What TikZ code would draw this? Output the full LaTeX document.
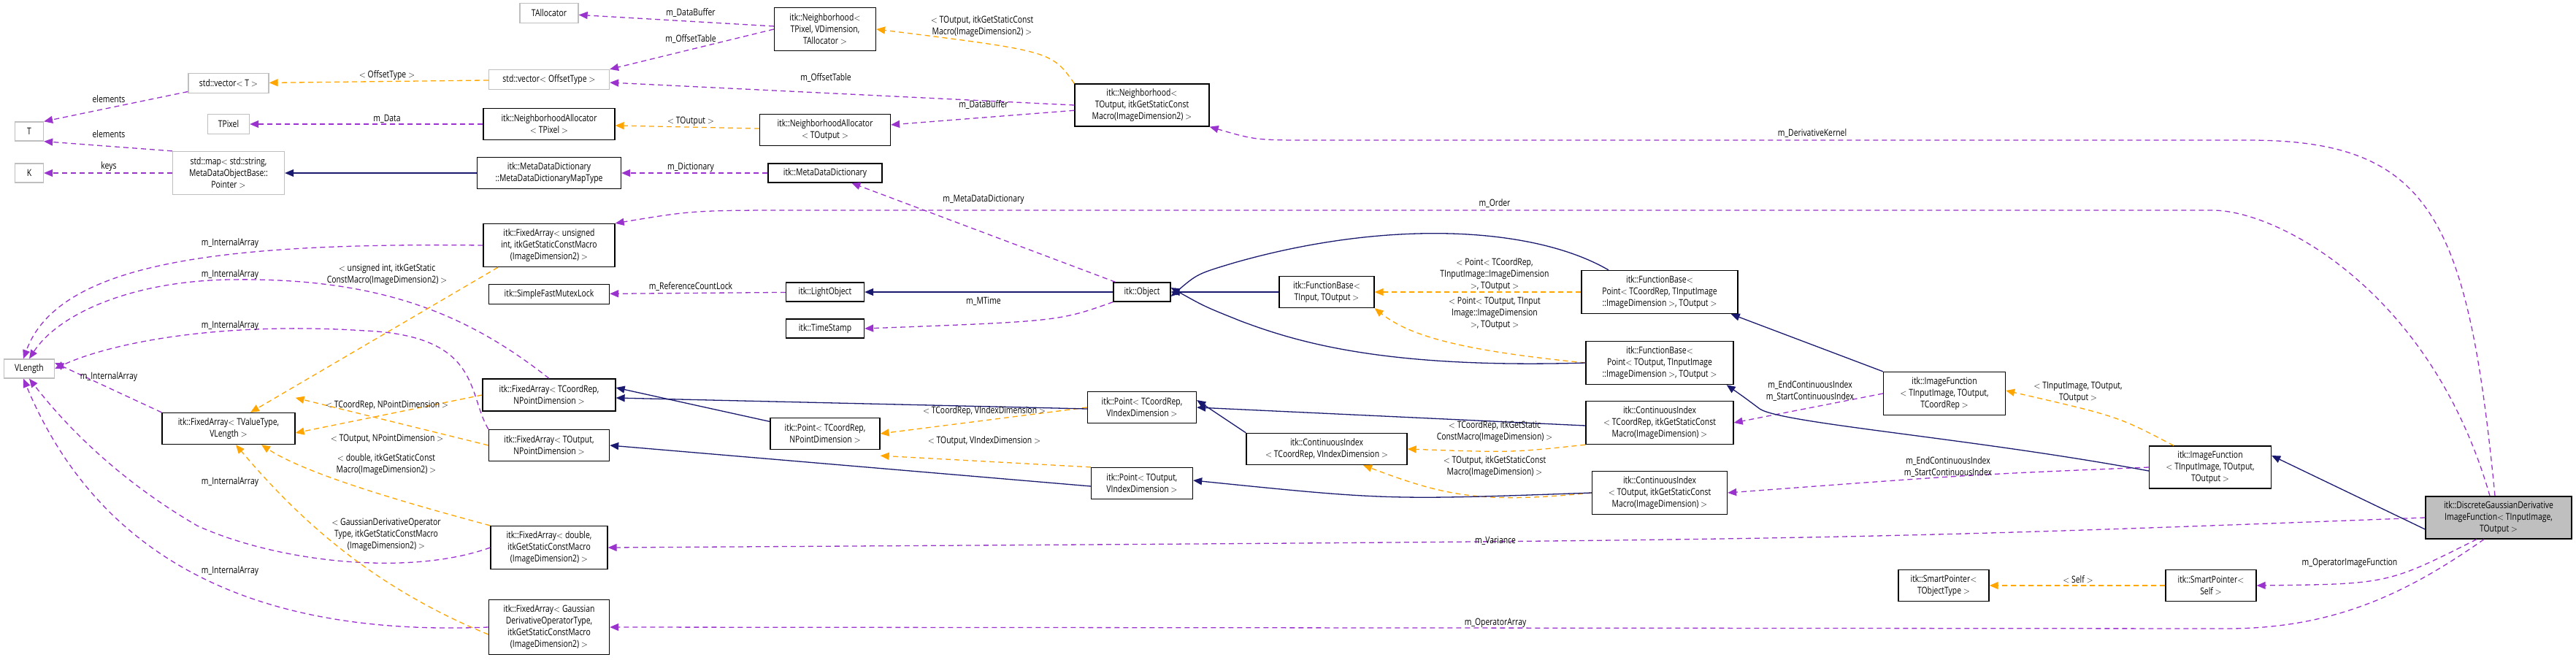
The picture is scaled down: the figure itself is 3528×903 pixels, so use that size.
\documentclass[tikz,border=0pt]{standalone}
\usepackage{fontspec}
\setmainfont[FakeStretch=0.8]{Open Sans}
\usetikzlibrary{arrows.meta}
\definecolor{usec}{HTML}{9A32CD}
\definecolor{tmpc}{HTML}{FFA500}
\definecolor{inhc}{HTML}{191970}
\begin{document}
\begin{tikzpicture}[x=1pt,y=-1pt,
  every node/.style={font=\fontsize{13}{16}\selectfont, align=center, inner sep=0pt},
  bx/.style 2 args={draw=black, line width=1.3pt, fill=white, minimum width=#1pt, minimum height=#2pt},
  gx/.style 2 args={draw=black!25, line width=1.3pt, fill=white, minimum width=#1pt, minimum height=#2pt},
  tip/.style={-{Triangle[length=12pt,width=10pt]}},
  use/.style={tip, draw=usec, line width=1.3pt, dash pattern=on 7pt off 5pt},
  tmp/.style={tip, draw=tmpc, line width=1.3pt, dash pattern=on 7pt off 5pt},
  inh/.style={tip, draw=inhc, line width=1.3pt},
  lb/.style={fill=none}]
\useasboundingbox (0,0) rectangle (3528,903);
% nodes
\node[gx={39}{26}] (T) at (40,180) {T};
\node[gx={39}{26}] (K) at (40,237) {K};
\node[gx={69}{26}] (VL) at (40,505) {VLength};
\node[gx={110}{27}] (vecT) at (313,114) {std::vector$<$ T $>$};
\node[gx={57}{27}] (TPix) at (313,170) {TPixel};
\node[gx={153}{59}] (map) at (313,237) {std::map$<$ std::string,\\MetaDataObjectBase::\\Pointer $>$};
\node[bx={182}{43}] (faTV) at (313,587) {itk::FixedArray$<$ TValueType,\\VLength $>$};
\node[gx={80}{27}] (TAl) at (752,18) {TAllocator};
\node[gx={165}{27}] (vecO) at (752,109) {std::vector$<$ OffsetType $>$};
\node[bx={180}{43}] (naP) at (752,170) {itk::NeighborhoodAllocator\\$<$ TPixel $>$};
\node[bx={197}{43}] (mdmt) at (752,237) {itk::MetaDataDictionary\\::MetaDataDictionaryMapType};
\node[bx={180}{59}] (faU) at (752,336) {itk::FixedArray$<$ unsigned\\int, itkGetStaticConstMacro\\(ImageDimension2) $>$};
\node[bx={165}{27}] (mut) at (752,403) {itk::SimpleFastMutexLock};
\node[bx={182}{44}] (faCR) at (752,541) {itk::FixedArray$<$ TCoordRep,\\NPointDimension $>$};
\node[bx={165}{43}] (faTO) at (752,610) {itk::FixedArray$<$ TOutput,\\NPointDimension $>$};
\node[bx={160}{59}] (faD) at (752,750) {itk::FixedArray$<$ double,\\itkGetStaticConstMacro\\(ImageDimension2) $>$};
\node[bx={165}{75}] (faG) at (752,859) {itk::FixedArray$<$ Gaussian\\DerivativeOperatorType,\\itkGetStaticConstMacro\\(ImageDimension2) $>$};
\node[bx={139}{59}] (nbP) at (1130,40) {itk::Neighborhood$<$\\TPixel, VDimension,\\TAllocator $>$};
\node[bx={179}{43}] (naO) at (1130,178) {itk::NeighborhoodAllocator\\$<$ TOutput $>$};
\node[bx={156}{26}] (mdd) at (1130,237) {itk::MetaDataDictionary};
\node[bx={107}{26}] (lo) at (1130,400) {itk::LightObject};
\node[bx={107}{26}] (ts) at (1130,450) {itk::TimeStamp};
\node[bx={150}{43}] (pCN) at (1130,594) {itk::Point$<$ TCoordRep,\\NPointDimension $>$};
\node[bx={184}{58}] (nbO) at (1564,144) {itk::Neighborhood$<$\\TOutput, itkGetStaticConst\\Macro(ImageDimension2) $>$};
\node[bx={78}{26}] (obj) at (1564,400) {itk::Object};
\node[bx={149}{43}] (pCV) at (1564,558) {itk::Point$<$ TCoordRep,\\VIndexDimension $>$};
\node[bx={139}{43}] (pOV) at (1564,662) {itk::Point$<$ TOutput,\\VIndexDimension $>$};
\node[bx={130}{43}] (fbT) at (1817,400) {itk::FunctionBase$<$\\TInput, TOutput $>$};
\node[bx={220}{43}] (ciCV) at (1817,615) {itk::ContinuousIndex\\$<$ TCoordRep, VIndexDimension $>$};
\node[bx={214}{59}] (fbC) at (2273,400) {itk::FunctionBase$<$\\Point$<$ TCoordRep, TInputImage\\::ImageDimension $>$, TOutput $>$};
\node[bx={202}{59}] (fbO) at (2273,497) {itk::FunctionBase$<$\\Point$<$ TOutput, TInputImage\\::ImageDimension $>$, TOutput $>$};
\node[bx={202}{59}] (ciCS) at (2273,579) {itk::ContinuousIndex\\$<$ TCoordRep, itkGetStaticConst\\Macro(ImageDimension) $>$};
\node[bx={185}{59}] (ciOS) at (2273,675) {itk::ContinuousIndex\\$<$ TOutput, itkGetStaticConst\\Macro(ImageDimension) $>$};
\node[bx={167}{59}] (ifC) at (2663,539) {itk::ImageFunction\\$<$ TInputImage, TOutput,\\TCoordRep $>$};
\node[bx={124}{43}] (spT) at (2662,802) {itk::SmartPointer$<$\\TObjectType $>$};
\node[bx={167}{58}] (ifO) at (3027,640) {itk::ImageFunction\\$<$ TInputImage, TOutput,\\TOutput $>$};
\node[bx={124}{43}] (spS) at (3028,802) {itk::SmartPointer$<$\\Self $>$};
\node[bx={200}{58}, fill=black!25] (tgt) at (3422,709) {itk::DiscreteGaussianDerivative\\ImageFunction$<$ TInputImage,\\TOutput $>$};

% usage edges
\draw[use] (nbP) -- (TAl);
\draw[use] (nbP.west) -- (vecO.north east);
\draw[use] (nbO.west) -- (vecO);
\draw[use] (nbO) -- (naO);
\draw[use] (naP) -- (TPix);
\draw[use] (vecT) -- (T.north east);
\draw[use] (map.north west) -- (T.south east);
\draw[use] (map) -- (K);
\draw[use] (mdd) -- (mdmt);
\draw[use] (obj) -- (mdd);
\draw[use] (lo) -- (mut);
\draw[use] (obj.south west) .. controls (1450,440) .. (ts.east);
\draw[use] ([xshift=-5pt]tgt.north) .. controls (3380,300) and (3330,192) .. (3080,192) -- (1800,192) .. controls (1720,192) .. (nbO.south east);
\draw[use] ([xshift=-12pt]tgt.north) .. controls (3330,400) and (3120,288) .. (3030,288) -- (1100,288) .. controls (950,288) .. (faU.north east);
\draw[use] (faU.west) .. controls (300,332) and (80,360) .. ([xshift=-8pt]VL.north);
\draw[use] (faCR.north) .. controls (640,430) and (520,380) .. (315,383) .. controls (180,385) and (80,430) .. (VL.north);
\draw[use] (faTO.north west) .. controls (640,540) and (660,460) .. (500,453) .. controls (300,440) and (150,470) .. (VL.east);
\draw[use] (faTV.north west) -- ([yshift=8pt]VL.east);
\draw[use] (faD.west) .. controls (560,790) and (380,770) .. (270,720) .. controls (150,650) and (80,570) .. (VL.south);
\draw[use] (faG.west) .. controls (400,870) and (150,800) .. ([xshift=-8pt]VL.south);
\draw[use] (ifC.west) -- (ciCS.east);
\draw[use] (ifO.west) .. controls (2700,650) .. (ciOS.east);
\draw[use] (tgt.west) .. controls (2500,740) .. (faD.east);
\draw[use] ([xshift=-30pt]tgt.south) .. controls (3270,800) .. (spS.east);
\draw[use] ([xshift=-20pt]tgt.south) .. controls (3300,810) and (3200,861) .. (3050,861) -- (faG.east);

% template edges
\draw[tmp] (vecO) -- (vecT);
\draw[tmp] (nbO.north west) .. controls (1440,70) .. (nbP.east);
\draw[tmp] (naO) -- (naP);
\draw[tmp] ([xshift=-70pt]faU.south) -- ([xshift=30pt]faTV.north);
\draw[tmp] (faCR.west) -- ([yshift=-6pt]faTV.east);
\draw[tmp] (faTO.west) -- ([yshift=20pt]faTV.north east);
\draw[tmp] (faD.north west) .. controls (560,690) and (420,650) .. ([xshift=45pt]faTV.south);
\draw[tmp] ([yshift=-10pt]faG.west) .. controls (500,800) and (400,700) .. ([xshift=10pt]faTV.south);
\draw[tmp] (pCV.west) -- (pCN.east);
\draw[tmp] (pOV.north west) -- ([yshift=-8pt]pCN.south east);
\draw[tmp] (fbC.west) -- (fbT.east);
\draw[tmp] (fbO.west) .. controls (2000,480) and (1930,460) .. (fbT.south east);
\draw[tmp] (ciCS.south west) .. controls (2070,620) .. (ciCV.east);
\draw[tmp] (ciOS.west) .. controls (2030,690) and (1980,680) .. ([xshift=50pt]ciCV.south);
\draw[tmp] ([xshift=-50pt]ifO.north) .. controls (2900,570) .. ([yshift=4pt]ifC.east);
\draw[tmp] (spS) -- (spT);

% inheritance edges
\draw[inh] (mdmt) -- (map);
\draw[inh] (obj) -- (lo);
\draw[inh] (fbT) -- (obj);
\draw[inh] ([xshift=-70pt]fbC.north) .. controls (2100,310) and (1900,300) .. (1690,360) .. controls (1640,375) .. ([yshift=-6pt]obj.east);
\draw[inh] (fbO.west) .. controls (1900,505) and (1780,470) .. (1700,440) .. controls (1650,420) .. ([yshift=6pt]obj.east);
\draw[inh] (pCN) -- ([yshift=10pt]faCR.east);
\draw[inh] ([yshift=-2pt]pCV.west) -- ([yshift=-4pt]faCR.east);
\draw[inh] ([yshift=-4pt]pOV.west) -- (faTO.east);
\draw[inh] ([yshift=-4pt]ciCS.west) -- (pCV.east);
\draw[inh] (ciCV.north west) -- ([yshift=10pt]pCV.east);
\draw[inh] (ciOS.west) .. controls (1900,685) .. ([yshift=4pt]pOV.east);
\draw[inh] (ifC.north west) -- ([xshift=-10pt]fbC.south east);
\draw[inh] ([yshift=-5pt]ifO.west) .. controls (2700,600) and (2440,580) .. (2410,560) .. controls (2390,545) .. ([xshift=-10pt]fbO.south east);
\draw[inh] ([yshift=-16pt]tgt.west) -- ([yshift=16pt]ifO.east);

% labels
\node[lb] (l1) at (946,18) {m\_DataBuffer};
\node[lb] (l2) at (946,54) {m\_OffsetTable};
\node[lb] (l3) at (530,103) {$<$ OffsetType $>$};
\node[lb] (l4) at (1131,107) {m\_OffsetTable};
\node[lb] (l5) at (1345,36) {$<$ TOutput, itkGetStaticConst\\Macro(ImageDimension2) $>$};
\node[lb] (l6) at (1347,144) {m\_DataBuffer};
\node[lb] (l7) at (530,163) {m\_Data};
\node[lb] (l8) at (946,166) {$<$ TOutput $>$};
\node[lb] (l9) at (149,136) {elements};
\node[lb] (l10) at (149,184) {elements};
\node[lb] (l11) at (149,228) {keys};
\node[lb] (l12) at (946,229) {m\_Dictionary};
\node[lb] (l13) at (1347,273) {m\_MetaDataDictionary};
\node[lb] (l14) at (2047,279) {m\_Order};
\node[lb] (l15) at (2482,183) {m\_DerivativeKernel};
\node[lb] (l16) at (946,393) {m\_ReferenceCountLock};
\node[lb] (l17) at (1347,413) {m\_MTime};
\node[lb] (l18) at (315,333) {m\_InternalArray};
\node[lb] (l19) at (315,376) {m\_InternalArray};
\node[lb] (l20) at (315,446) {m\_InternalArray};
\node[lb] (l21) at (149,516) {m\_InternalArray};
\node[lb] (l22) at (315,660) {m\_InternalArray};
\node[lb] (l23) at (315,782) {m\_InternalArray};
\node[lb] (l24) at (530,376) {$<$ unsigned int, itkGetStatic\\ConstMacro(ImageDimension2) $>$};
\node[lb] (l25) at (530,555) {$<$ TCoordRep, NPointDimension $>$};
\node[lb] (l26) at (530,601) {$<$ TOutput, NPointDimension $>$};
\node[lb] (l27) at (529,636) {$<$ double, itkGetStaticConst\\Macro(ImageDimension2) $>$};
\node[lb] (l28) at (529,732) {$<$ GaussianDerivativeOperator\\Type, itkGetStaticConstMacro\\(ImageDimension2) $>$};
\node[lb] (l29) at (1348,563) {$<$ TCoordRep, VIndexDimension $>$};
\node[lb] (l30) at (1348,604) {$<$ TOutput, VIndexDimension $>$};
\node[lb] (l31) at (2047,376) {$<$ Point$<$ TCoordRep,\\TInputImage::ImageDimension\\$>$, TOutput $>$};
\node[lb] (l32) at (2047,429) {$<$ Point$<$ TOutput, TInput\\Image::ImageDimension\\$>$, TOutput $>$};
\node[lb] (l33) at (2047,591) {$<$ TCoordRep, itkGetStatic\\ConstMacro(ImageDimension) $>$};
\node[lb] (l34) at (2047,639) {$<$ TOutput, itkGetStaticConst\\Macro(ImageDimension) $>$};
\node[lb] (l35) at (2479,536) {m\_EndContinuousIndex\\m\_StartContinuousIndex};
\node[lb] (l36) at (2668,640) {m\_EndContinuousIndex\\m\_StartContinuousIndex};
\node[lb] (l37) at (2846,537) {$<$ TInputImage, TOutput,\\TOutput $>$};
\node[lb] (l38) at (2048,741) {m\_Variance};
\node[lb] (l39) at (2048,853) {m\_OperatorArray};
\node[lb] (l40) at (3218,771) {m\_OperatorImageFunction};
\node[lb] (l41) at (2846,794) {$<$ Self $>$};
\end{tikzpicture}
\end{document}
